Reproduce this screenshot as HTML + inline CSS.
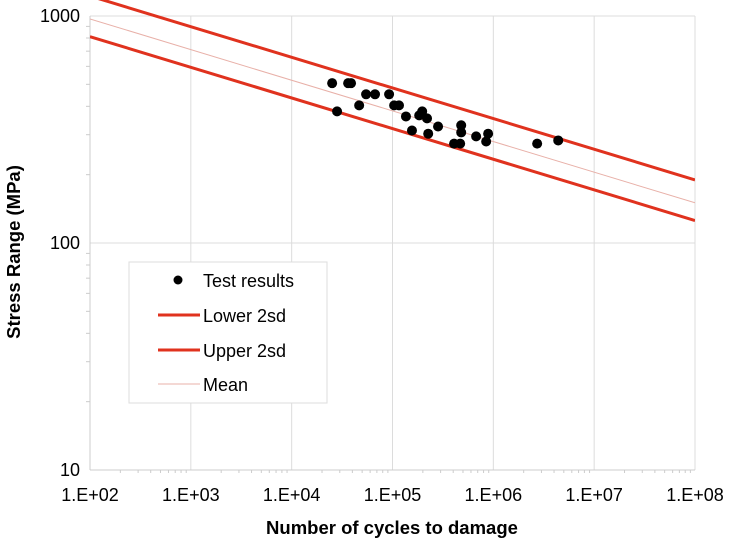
<!DOCTYPE html>
<html><head><meta charset="utf-8"><style>
body{margin:0;background:#fff;font-family:"Liberation Sans",sans-serif}
svg text{font-family:"Liberation Sans",sans-serif}
</style></head><body>
<svg id="chart" width="745" height="549">
<rect width="745" height="549" fill="#fff"/>
<g id="grid"></g>
<g id="axes"></g>
<g id="series"></g>
<text x="15" y="252" transform="rotate(-90 15 252)" text-anchor="middle" dominant-baseline="middle" font-size="18.5" font-weight="bold">Stress Range (MPa)</text>
<text x="392" y="534" text-anchor="middle" font-size="18.5" font-weight="bold">Number of cycles to damage</text>
<g>
<rect x="129" y="262" width="198" height="141" fill="#fff" stroke="#ddd"/>
<circle cx="178" cy="280" r="4.5" fill="#000"/>
<text x="203" y="287" font-size="18">Test results</text>
<line x1="158" y1="315" x2="200" y2="315" stroke="#e0321e" stroke-width="3"/>
<text x="203" y="322" font-size="18">Lower 2sd</text>
<line x1="158" y1="350" x2="200" y2="350" stroke="#e0321e" stroke-width="3"/>
<text x="203" y="357" font-size="18">Upper 2sd</text>
<line x1="158" y1="384" x2="200" y2="384" stroke="#e8b0a8" stroke-width="1"/>
<text x="203" y="391" font-size="18">Mean</text>
</g>
</svg>
<script>
const cyclesN=[25200,36300,38800,28200,46700,54700,67100,92500,103800,116000,136000,156000,184000,197000,220000,226000,283000,408000,469000,480000,480000,675000,888000,849000,2720000,4400000];
const stressS=[506,506,506,380,404,452,452,452,404,404,361,313,365,380,354,303,326,274,274,330,307,295,303,280,274,283];
const xTickExp=[2,3,4,5,6,7,8];
const xTickLabels=["1.E+02","1.E+03","1.E+04","1.E+05","1.E+06","1.E+07","1.E+08"];
const yTickExp=[1,2,3];
const yTickLabels=["10","100","1000"];
const lineSlope=-0.135;
const lowerIntercept=3.179;
const upperIntercept=3.358;
const meanIntercept=3.257;
const X0=90,X1=695,Y0=470,Y1=16;
function sx(n){return X0+(Math.log10(n)-2)/6*(X1-X0);}
function sy(s){return Y0-(Math.log10(s)-1)/2*(Y0-Y1);}
const NS="http://www.w3.org/2000/svg";
function mk(t,a,p){const e=document.createElementNS(NS,t);for(const k in a)e.setAttribute(k,a[k]);p.appendChild(e);return e;}
const grid=document.getElementById('grid'),axes=document.getElementById('axes'),ser=document.getElementById('series');
xTickExp.forEach((e,i)=>{const x=sx(Math.pow(10,e));
 const g=mk('line',{x1:x,y1:Y1,x2:x,y2:Y0,stroke:'#dcdcdc','stroke-width':1},grid);
 
 
 const t=mk('text',{x:x,y:501,'text-anchor':'middle','font-size':18},axes);t.textContent=xTickLabels[i];
 
 
 if(e<8)for(let k=2;k<10;k++){const xm=sx(k*Math.pow(10,e));mk('line',{x1:xm,y1:Y0,x2:xm,y2:Y0+3,stroke:'#ccc'},axes);}
});
yTickExp.forEach((e,i)=>{const y=sy(Math.pow(10,e));
 const g=mk('line',{x1:X0,y1:y,x2:X1,y2:y,stroke:'#dcdcdc','stroke-width':1},grid);
 
 
 const t=mk('text',{x:80,y:y+6,'text-anchor':'end','font-size':18},axes);t.textContent=yTickLabels[i];
 
 
 if(e<3)for(let k=2;k<10;k++){const ym=sy(k*Math.pow(10,e));mk('line',{x1:X0-4,y1:ym,x2:X0,y2:ym,stroke:'#ccc'},axes);}
});
mk('line',{x1:X0,y1:Y1,x2:X0,y2:Y0,stroke:'#ccc'},axes);
mk('line',{x1:X0,y1:Y0,x2:X1,y2:Y0,stroke:'#ccc'},axes);
const cp=mk('clipPath',{id:'pc'},ser);mk('rect',{x:X0,y:0,width:X1-X0,height:Y0},cp);
function fitLine(b,col,w,name){const n0=100,n1=1e8;
 const l=mk('line',{x1:sx(n0),y1:sy(Math.pow(10,b+lineSlope*2)),x2:sx(n1),y2:sy(Math.pow(10,b+lineSlope*8)),stroke:col,'stroke-width':w,'clip-path':'url(#pc)'},ser);
 
 }
fitLine(meanIntercept,'#e8b0a8',1,'mean-line');
fitLine(lowerIntercept,'#e0321e',3,'lower-2sd-line');
fitLine(upperIntercept,'#e0321e',3,'upper-2sd-line');
cyclesN.forEach((n,i)=>{const c=mk('circle',{cx:sx(n),cy:sy(stressS[i]),r:5,fill:'#000'},ser);
 
 });
</script>
</body></html>
